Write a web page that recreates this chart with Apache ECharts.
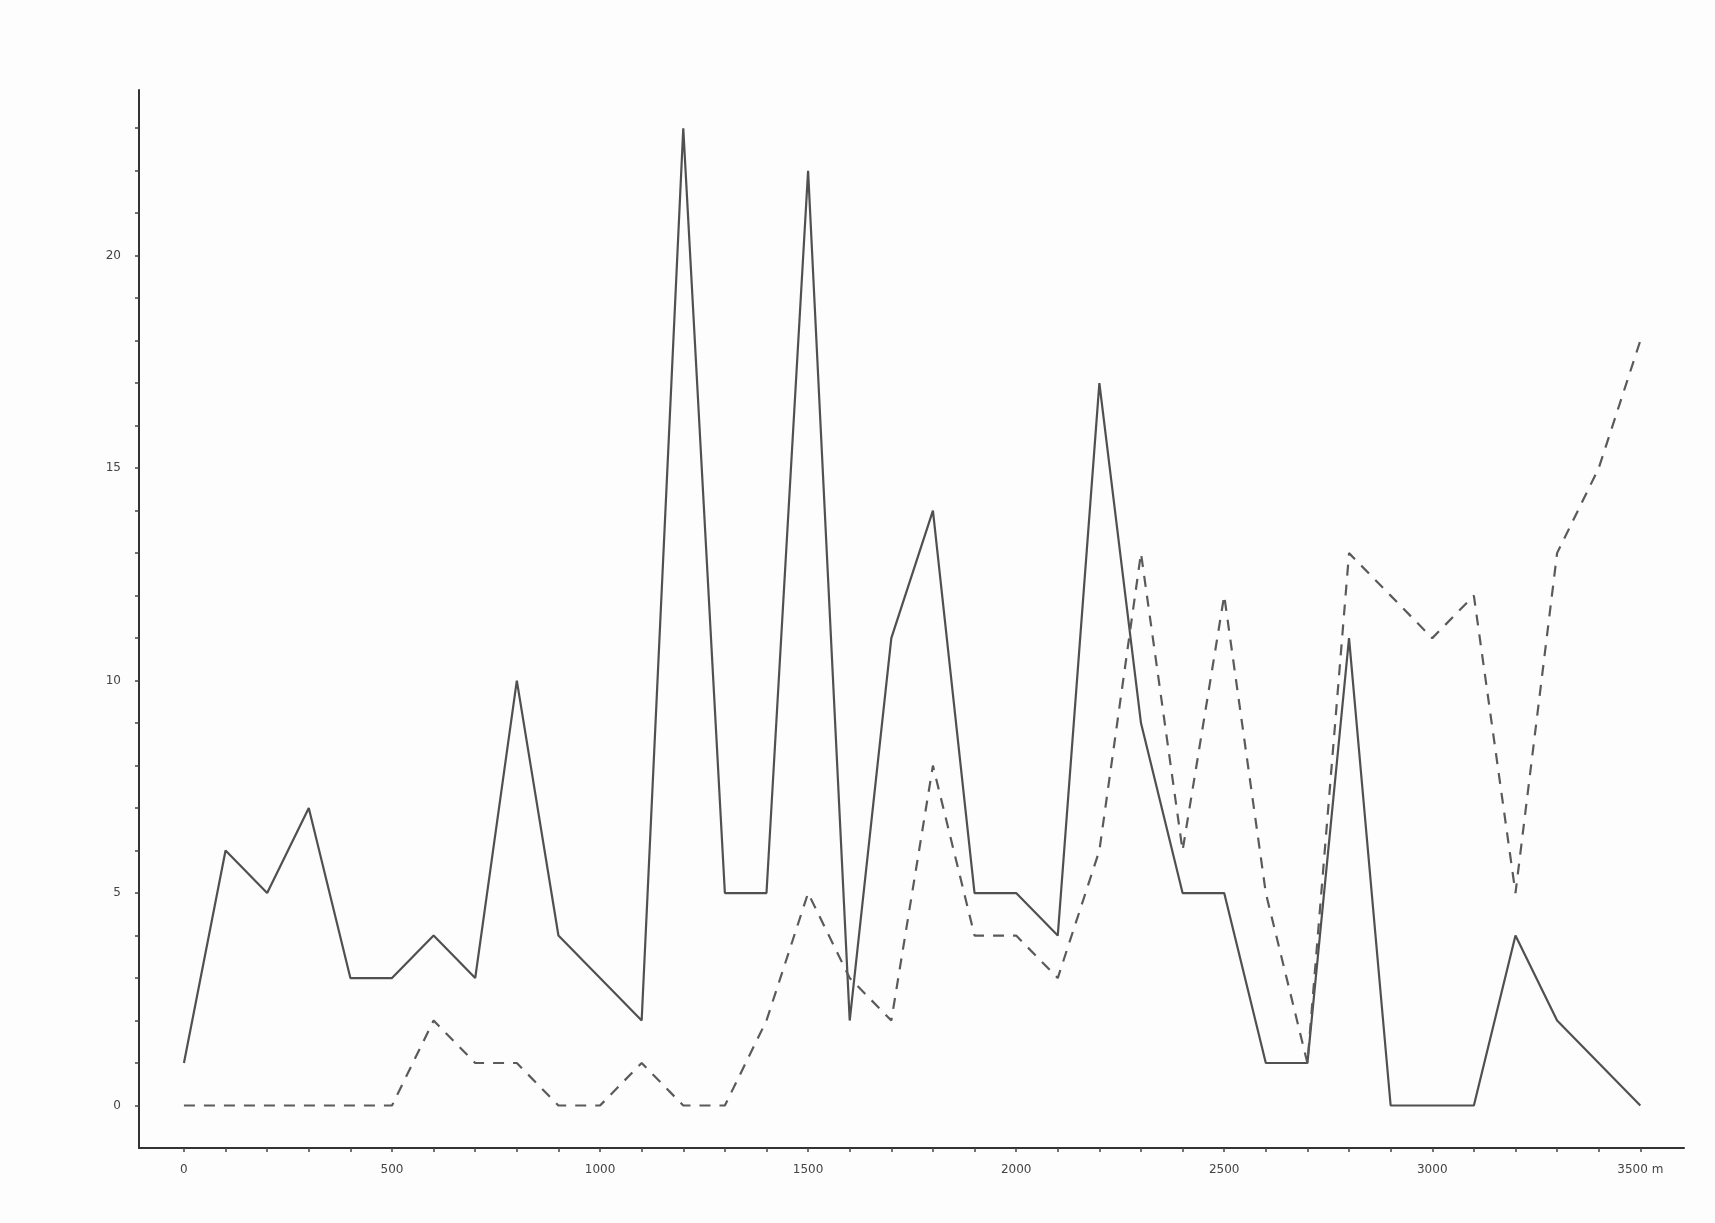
<!DOCTYPE html>
<html>
<head>
<meta charset="utf-8">
<script src="https://cdn.jsdelivr.net/npm/echarts@6/dist/echarts.min.js"></script>
<style>
html,body{margin:0;padding:0;background:#fdfdfd;}
#chart{width:1715px;height:1223px;}
</style>
</head>
<body>
<div id="chart"></div>
<script>
const distances = [0,100,200,300,400,500,600,700,800,900,1000,1100,1200,1300,1400,1500,1600,1700,1800,1900,2000,2100,2200,2300,2400,2500,2600,2700,2800,2900,3000,3100,3200,3300,3400,3500];
const solidValues = [1,6,5,7,3,3,4,3,10,4,3,2,23,5,5,22,2,11,14,5,5,4,17,9,5,5,1,1,11,0,0,0,4,2,1,0];
const dashedValues = [0,0,0,0,0,0,2,1,1,0,0,1,0,0,2,5,3,2,8,4,4,3,6,13,6,12,5,1,13,12,11,12,5,13,15,18];
const xTickLabels = [0,500,1000,1500,2000,2500,3000,3500];
const yTickLabels = [0,5,10,15,20];
const yMinorTicks = [0,1,2,3,4,5,6,7,8,9,10,11,12,13,14,15,16,17,18,19,20,21,22,23];

const solidData = distances.map((d,i)=>[d, solidValues[i]]);
const dashedData = distances.map((d,i)=>[d, dashedValues[i]]);

const chart = echarts.init(document.getElementById('chart'));
chart.setOption({
  backgroundColor:'#fdfdfd',
  animation:false,
  grid:{left:139,right:31,top:90,bottom:75,containLabel:false},
  xAxis:{
    type:'value',min:-108,max:3605,
    axisLine:{show:true,onZero:false,lineStyle:{color:'#333',width:2}},
    axisTick:{show:true,length:4,lineStyle:{color:'#444',width:1.5},
      customValues: distances},
    axisLabel:{
      customValues: xTickLabels,
      color:'#444',fontFamily:'DejaVu Sans',fontSize:12,margin:16,
      formatter:v=> v===3500 ? '3500 m' : String(v)
    },
    splitLine:{show:false}
  },
  yAxis:{
    type:'value',min:-1,max:23.9,
    axisLine:{show:true,onZero:false,lineStyle:{color:'#333',width:2}},
    axisTick:{show:true,length:4,lineStyle:{color:'#444',width:1.5},
      customValues: yMinorTicks},
    axisLabel:{
      customValues: yTickLabels,
      color:'#444',fontFamily:'DejaVu Sans',fontSize:12,margin:18
    },
    splitLine:{show:false}
  },
  series:[
    {type:'line',data:solidData,symbol:'none',lineStyle:{color:'#505050',width:2.2,type:'solid'}},
    {type:'line',data:dashedData,symbol:'none',lineStyle:{color:'#5a5a5a',width:2.2,type:[11,9]}}
  ]
});
</script>
</body>
</html>
